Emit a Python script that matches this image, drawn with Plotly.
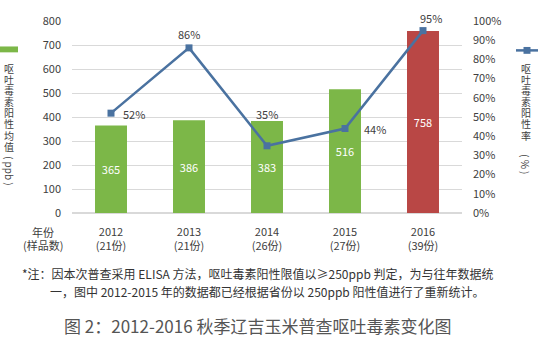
import plotly.graph_objects as go

years = ["2012", "2013", "2014", "2015", "2016"]
samples = ["21份", "21份", "26份", "27份", "39份"]
mean_ppb = [365, 386, 383, 516, 758]
positive_rate = [0.52, 0.86, 0.35, 0.44, 0.95]
rate_labels = ["52%", "86%", "35%", "44%", "95%"]
bar_colors = ["#7cb748", "#7cb748", "#7cb748", "#7cb748", "#b94745"]
left_ticks = [0, 100, 200, 300, 400, 500, 600, 700, 800]
right_ticks = [0, 0.1, 0.2, 0.3, 0.4, 0.5, 0.6, 0.7, 0.8, 0.9, 1.0]

FONT = "Noto Sans CJK SC"
TXT = "#404040"
cats = [f"{y}<br>({s})" for y, s in zip(years, samples)]

# plot area: y pixels 17..213 (196 px), x pixels 72..462
def py(p):
    return (213 - p) / 196.0

def px(p):
    return (p - 72) / 390.0

fig = go.Figure()
fig.add_trace(go.Bar(
    x=cats, y=mean_ppb, marker=dict(color=bar_colors, line=dict(width=0)),
    text=[str(v) for v in mean_ppb], textposition="inside", insidetextanchor="middle",
    textfont=dict(color="white", size=11, family=FONT), showlegend=False,
    hoverinfo="skip"))
fig.add_trace(go.Scatter(
    x=cats, y=positive_rate, yaxis="y2", mode="lines+markers",
    line=dict(color="#4a72a0", width=2.5),
    marker=dict(symbol="square", size=7, color="#4a72a0"),
    showlegend=False, cliponaxis=False))

fig.update_layout(
    width=541, height=350,
    margin=dict(l=72, r=79, t=17, b=137),
    paper_bgcolor="white", plot_bgcolor="white",
    font=dict(family=FONT, color=TXT, size=11),
    bargap=0.59,
    xaxis=dict(type="category", showgrid=False, showline=False, ticks="",
               tickfont=dict(size=11, color=TXT), ticklabelstandoff=11),
    yaxis=dict(range=[0, 800], tickvals=left_ticks, showgrid=True,
               gridcolor="#d9d9d9", gridwidth=1, zeroline=True, zerolinecolor="#d9d9d9",
               tickfont=dict(size=11, color=TXT), ticklabelstandoff=10),
    yaxis2=dict(range=[0, 1.0], tickvals=right_ticks, tickformat=".0%",
                overlaying="y", side="right", showgrid=False, zeroline=False,
                tickfont=dict(size=11, color=TXT), ticklabelstandoff=10),
)

ann = []
# rate labels on the line
lab_anchor = [("left", "middle", 10, -1), ("center", "bottom", 0, 4), ("center", "bottom", 0, 22),
              ("left", "middle", 17, 0), ("center", "bottom", 8, 3)]
for c, r, t, (xa, ya, xs, ys) in zip(cats, positive_rate, rate_labels, lab_anchor):
    ann.append(dict(x=c, y=r, xref="x", yref="y2", text=t, showarrow=False,
                    xanchor=xa, yanchor=ya, xshift=xs, yshift=ys,
                    font=dict(size=11, color=TXT, family=FONT)))
# x-axis category header
ann.append(dict(xref="paper", yref="paper", x=px(43), y=py(232), xanchor="center", yanchor="middle",
                text="年份", showarrow=False, font=dict(size=11, color=TXT, family=FONT)))
ann.append(dict(xref="paper", yref="paper", x=px(43), y=py(246), xanchor="center", yanchor="middle",
                text="(样品数)", showarrow=False, font=dict(size=11, color=TXT, family=FONT)))
# left vertical axis title
for i, ch in enumerate("呕吐毒素阳性均值"):
    ann.append(dict(xref="paper", yref="paper", x=px(9), y=py(65 + 11.4 * i), xanchor="center",
                    yanchor="middle", text=ch, showarrow=False, borderpad=0,
                    font=dict(size=10, color=TXT, family=FONT)))
ann.append(dict(xref="paper", yref="paper", x=px(9), y=py(170), xanchor="center", yanchor="middle",
                text="( ppb )", textangle=90, showarrow=False, borderpad=0,
                font=dict(size=10, color=TXT, family=FONT)))
# right vertical axis title
for i, ch in enumerate("呕吐毒素阳性率"):
    ann.append(dict(xref="paper", yref="paper", x=px(526), y=py(65 + 11.4 * i), xanchor="center",
                    yanchor="middle", text=ch, showarrow=False, borderpad=0,
                    font=dict(size=10, color=TXT, family=FONT)))
ann.append(dict(xref="paper", yref="paper", x=px(526), y=py(163), xanchor="center", yanchor="middle",
                text="( % )", textangle=90, showarrow=False, borderpad=0,
                font=dict(size=10, color=TXT, family=FONT)))
# note
ann.append(dict(xref="paper", yref="paper", x=px(20), y=py(275), xanchor="left", yanchor="middle",
                text="*注：因本次普查采用 ELISA 方法，呕吐毒素阳性限值以≥250ppb 判定，为与往年数据统",
                showarrow=False, font=dict(size=12, color="#333333", family=FONT)))
ann.append(dict(xref="paper", yref="paper", x=px(48), y=py(293), xanchor="left", yanchor="middle",
                text="一，图中 2012-2015 年的数据都已经根据省份以 250ppb 阳性值进行了重新统计。",
                showarrow=False, font=dict(size=12, color="#333333", family=FONT)))
# caption
ann.append(dict(xref="paper", yref="paper", x=px(257), y=py(328), xanchor="center", yanchor="middle",
                text="图 2：2012-2016 秋季辽吉玉米普查呕吐毒素变化图",
                showarrow=False, font=dict(size=17, color="#555555", family=FONT)))
fig.update_layout(annotations=ann)

# legend keys
fig.add_shape(type="rect", xref="paper", yref="paper", x0=px(0), x1=px(18), y0=py(49), y1=py(43),
              fillcolor="#7cb748", line=dict(width=0))
fig.add_shape(type="line", xref="paper", yref="paper", x0=px(516), x1=px(538), y0=py(47), y1=py(47),
              line=dict(color="#4a72a0", width=2.5))
fig.add_shape(type="rect", xref="paper", yref="paper", x0=px(523.5), x1=px(530.5), y0=py(50.5), y1=py(43.5),
              fillcolor="#4a72a0", line=dict(width=0))

fig.write_html("out.html")
